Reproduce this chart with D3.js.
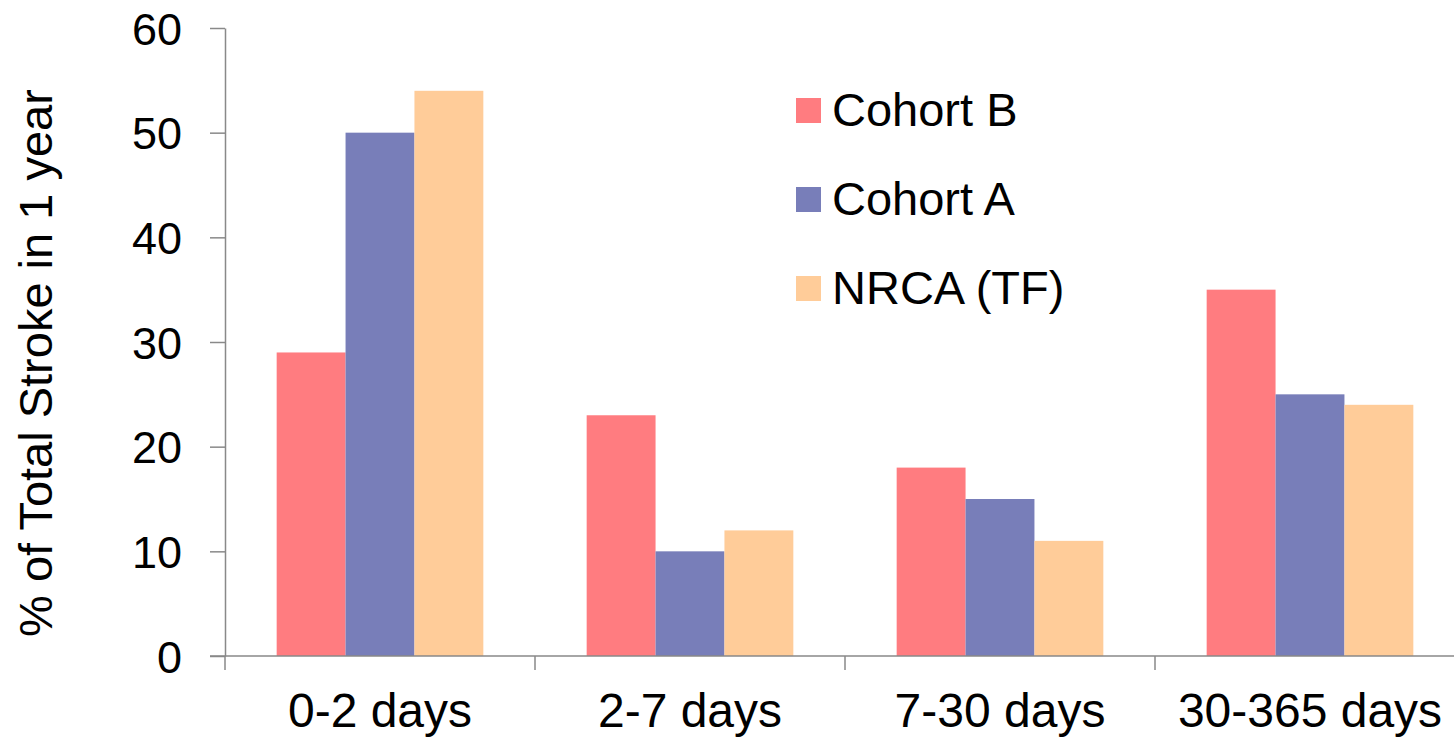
<!DOCTYPE html>
<html>
<head>
<meta charset="utf-8">
<script src="https://cdn.jsdelivr.net/npm/d3@7"></script>
<style>
  body { margin: 0; background: #fff; }
  text { font-family: "Liberation Sans", Arial, sans-serif; fill: #000; }
</style>
</head>
<body>
<div id="wrapper"></div>
<script>
const categories = ["0-2 days", "2-7 days", "7-30 days", "30-365 days"];
const seriesNames = ["Cohort B", "Cohort A", "NRCA (TF)"];
const cohortB = [29, 23, 18, 35];
const cohortA = [50, 10, 15, 25];
const nrca = [54, 12, 11, 24];
const yTicks = [0, 10, 20, 30, 40, 50, 60];
const colors = ["#ff7c80", "#787eb9", "#ffcc99"];

function drawChart() {
  const seriesValues = [cohortB, cohortA, nrca];

  // dimensions
  const dimensions = {
    width: 1454,
    height: 738,
    margins: { top: 28, left: 225, bottom: 82 },
  };
  const plotRight = 1465;

  const svg = d3
    .select("#wrapper")
    .append("svg")
    .attr("width", dimensions.width)
    .attr("height", dimensions.height);

  // scales
  const yScale = d3
    .scaleLinear()
    .domain([0, 60])
    .range([656, dimensions.margins.top]);

  const x0 = d3
    .scaleBand()
    .domain(categories)
    .range([dimensions.margins.left, plotRight])
    .padding(0);

  const x1 = d3
    .scaleBand()
    .domain(seriesNames)
    .range([0, x0.bandwidth()])
    .paddingInner(0)
    .paddingOuter(0.75);

  const colorScale = d3.scaleOrdinal().domain(seriesNames).range(colors);

  // bars
  const groups = svg
    .selectAll(".group")
    .data(categories)
    .join("g")
    .attr("class", "group")
    .attr("transform", (d) => `translate(${x0(d)},0)`);

  groups
    .selectAll("rect")
    .data((d, i) => seriesNames.map((s, j) => ({ series: s, value: seriesValues[j][i] })))
    .join("rect")
    .attr("x", (d) => x1(d.series))
    .attr("width", x1.bandwidth())
    .attr("y", (d) => yScale(d.value))
    .attr("height", (d) => yScale(0) - yScale(d.value))
    .attr("fill", (d) => colorScale(d.series));

  // y axis
  const yAxis = svg
    .append("g")
    .attr("transform", `translate(${dimensions.margins.left},0)`)
    .call(d3.axisLeft(yScale).tickValues(yTicks).tickSize(15).tickSizeOuter(0).tickPadding(28));
  yAxis.select(".domain").attr("stroke", "#898989").attr("stroke-width", 1.5);
  yAxis.selectAll(".tick line").attr("stroke", "#898989").attr("stroke-width", 1.5);
  yAxis.selectAll(".tick text").style("font-size", "45px").attr("dy", "0.36em");

  // x axis
  const xAxis = svg
    .append("g")
    .attr("transform", `translate(0,${yScale(0)})`)
    .call(d3.axisBottom(x0).tickSize(0).tickPadding(0));
  xAxis.select(".domain").remove();
  xAxis
    .append("line")
    .attr("x1", dimensions.margins.left - 15)
    .attr("x2", plotRight)
    .attr("stroke", "#898989")
    .attr("stroke-width", 1.5);
  xAxis
    .selectAll(".sep")
    .data(categories.concat(["end"]))
    .join("line")
    .attr("class", "sep")
    .attr("x1", (d, i) => dimensions.margins.left + i * x0.step())
    .attr("x2", (d, i) => dimensions.margins.left + i * x0.step())
    .attr("y1", 0)
    .attr("y2", 14)
    .attr("stroke", "#898989")
    .attr("stroke-width", 1.5);
  xAxis
    .selectAll(".tick text")
    .style("font-size", "48px")
    .attr("y", 71)
    .attr("dy", 0);

  // y axis title
  svg
    .append("text")
    .attr("transform", `translate(52,363) rotate(-90)`)
    .attr("text-anchor", "middle")
    .style("font-size", "47px")
    .text("% of Total Stroke in 1 year");

  // legend
  const legend = svg
    .selectAll(".legend")
    .data(seriesNames)
    .join("g")
    .attr("class", "legend")
    .attr("transform", (d, i) => `translate(796,${98 + i * 89})`);

  legend
    .append("rect")
    .attr("width", 25)
    .attr("height", 25)
    .attr("fill", (d) => colorScale(d));

  legend
    .append("text")
    .attr("x", 36)
    .attr("y", 28)
    .style("font-size", "47px")
    .text((d) => d);
}

drawChart();
</script>
</body>
</html>
